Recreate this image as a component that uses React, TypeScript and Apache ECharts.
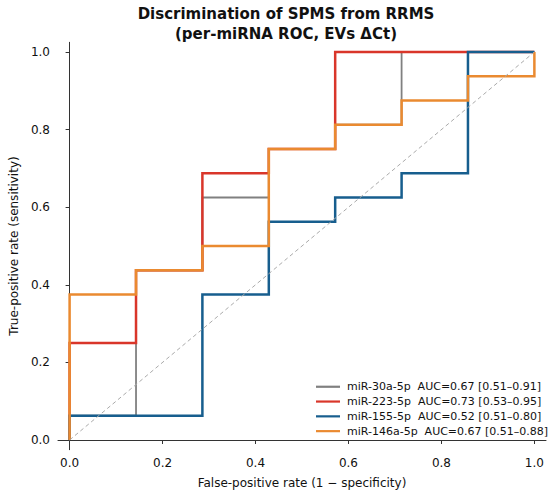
import React, { useEffect, useRef } from "react";
import * as echarts from "echarts";

const seriesNames = [
  "miR-30a-5p  AUC=0.67 [0.51–0.91]",
  "miR-223-5p  AUC=0.73 [0.53–0.95]",
  "miR-155-5p  AUC=0.52 [0.51–0.80]",
  "miR-146a-5p  AUC=0.67 [0.51–0.88]",
];
const seriesColors = ["#808080", "#d9362a", "#175e8e", "#ea8a30"];
const seriesWidths = [1.8, 2.5, 2.5, 2.5];

const fpr30a = [0, 0, 0.1429, 0.1429, 0.2857, 0.2857, 0.4286, 0.4286, 0.5714, 0.5714, 0.7143, 0.7143, 1];
const tpr30a = [0, 0.0625, 0.0625, 0.4375, 0.4375, 0.625, 0.625, 0.75, 0.75, 0.8125, 0.8125, 1, 1];

const fpr223 = [0, 0, 0.1429, 0.1429, 0.2857, 0.2857, 0.4286, 0.4286, 0.5714, 0.5714, 1];
const tpr223 = [0, 0.25, 0.25, 0.4375, 0.4375, 0.6875, 0.6875, 0.75, 0.75, 1, 1];

const fpr155 = [0, 0, 0.2857, 0.2857, 0.4286, 0.4286, 0.5714, 0.5714, 0.7143, 0.7143, 0.8571, 0.8571, 1];
const tpr155 = [0, 0.0625, 0.0625, 0.375, 0.375, 0.5625, 0.5625, 0.625, 0.625, 0.6875, 0.6875, 1, 1];

const fpr146a = [0, 0, 0.1429, 0.1429, 0.2857, 0.2857, 0.4286, 0.4286, 0.5714, 0.5714, 0.7143, 0.7143, 0.8571, 0.8571, 1, 1];
const tpr146a = [0, 0.375, 0.375, 0.4375, 0.4375, 0.5, 0.5, 0.75, 0.75, 0.8125, 0.8125, 0.875, 0.875, 0.9375, 0.9375, 1];

const chanceX = [0, 1];
const chanceY = [0, 1];

const tickValues = [0, 0.2, 0.4, 0.6, 0.8, 1.0];

const titleLines = ["Discrimination of SPMS from RRMS", "(per-miRNA ROC, EVs ΔCt)"];
const xName = "False-positive rate (1 − specificity)";
const yName = "True-positive rate (sensitivity)";

const FONT = "DejaVu Sans";

function zip(xs: number[], ys: number[]) {
  return xs.map((x, i) => [x, ys[i]]);
}

export default function App() {
  const ref = useRef<HTMLDivElement>(null);
  useEffect(() => {
    if (!ref.current) return;
    const chart = echarts.init(ref.current, null, { renderer: "svg" });
    const curves = [
      zip(fpr30a, tpr30a),
      zip(fpr223, tpr223),
      zip(fpr155, tpr155),
      zip(fpr146a, tpr146a),
    ];
    const axisCommon = {
      type: "value" as const,
      min: -0.025,
      max: 1.025,
      nameLocation: "middle" as const,
      nameTextStyle: { fontFamily: FONT, fontSize: 12, color: "#111" },
      axisLine: { show: true, lineStyle: { color: "#333", width: 1 } },
      axisTick: {
        show: true,
        inside: false,
        length: 4,
        lineStyle: { color: "#333", width: 1 },
        customValues: tickValues,
      },
      axisLabel: {
        fontFamily: FONT,
        fontSize: 12,
        color: "#111",
        customValues: tickValues,
        formatter: (v: number) => v.toFixed(1),
      },
      splitLine: { show: false },
    };
    chart.setOption({
      animation: false,
      backgroundColor: "#ffffff",
      grid: { left: 53.3, right: 4, top: 42.3, bottom: 45.3, containLabel: false },
      graphic: [
        {
          type: "text",
          x: 286,
          y: 14,
          style: {
            text: titleLines[0],
            fontFamily: FONT,
            fontSize: 15,
            fontWeight: "bold",
            fill: "#111",
            textAlign: "center",
            textVerticalAlign: "middle",
          },
        },
        {
          type: "text",
          x: 286,
          y: 33.5,
          style: {
            text: titleLines[1],
            fontFamily: FONT,
            fontSize: 15,
            fontWeight: "bold",
            fill: "#111",
            textAlign: "center",
            textVerticalAlign: "middle",
          },
        },
      ],
      xAxis: { ...axisCommon, name: xName, nameGap: 27, axisLabel: { ...axisCommon.axisLabel, margin: 7 } },
      yAxis: { ...axisCommon, name: yName, nameGap: 32, nameRotate: 90, axisLabel: { ...axisCommon.axisLabel, margin: 8 } },
      legend: {
        orient: "vertical",
        left: 311,
        top: 376,
        itemWidth: 24,
        itemHeight: 2.2,
        itemGap: 3.3,
        icon: "rect",
        data: seriesNames,
        textStyle: { fontFamily: FONT, fontSize: 11, color: "#111", lineHeight: 11.5, padding: [0, 0, 0, 2] },
      },
      series: [
        ...curves.map((d, i) => ({
          type: "line",
          name: seriesNames[i],
          data: d,
          showSymbol: false,
          symbol: "none",
          color: seriesColors[i],
          lineStyle: { color: seriesColors[i], width: seriesWidths[i], join: "miter" },
          z: 2 + i,
        })),
        {
          type: "line",
          name: "chance",
          data: zip(chanceX, chanceY),
          showSymbol: false,
          symbol: "none",
          silent: true,
          lineStyle: { color: "#aaaaaa", width: 1, type: [4, 3] },
          z: 10,
        },
      ],
    });
    return () => chart.dispose();
  }, []);
  return (
    <div
      ref={ref}
      style={{ position: "absolute", left: 0, top: 0, width: 550, height: 495 }}
    />
  );
}
